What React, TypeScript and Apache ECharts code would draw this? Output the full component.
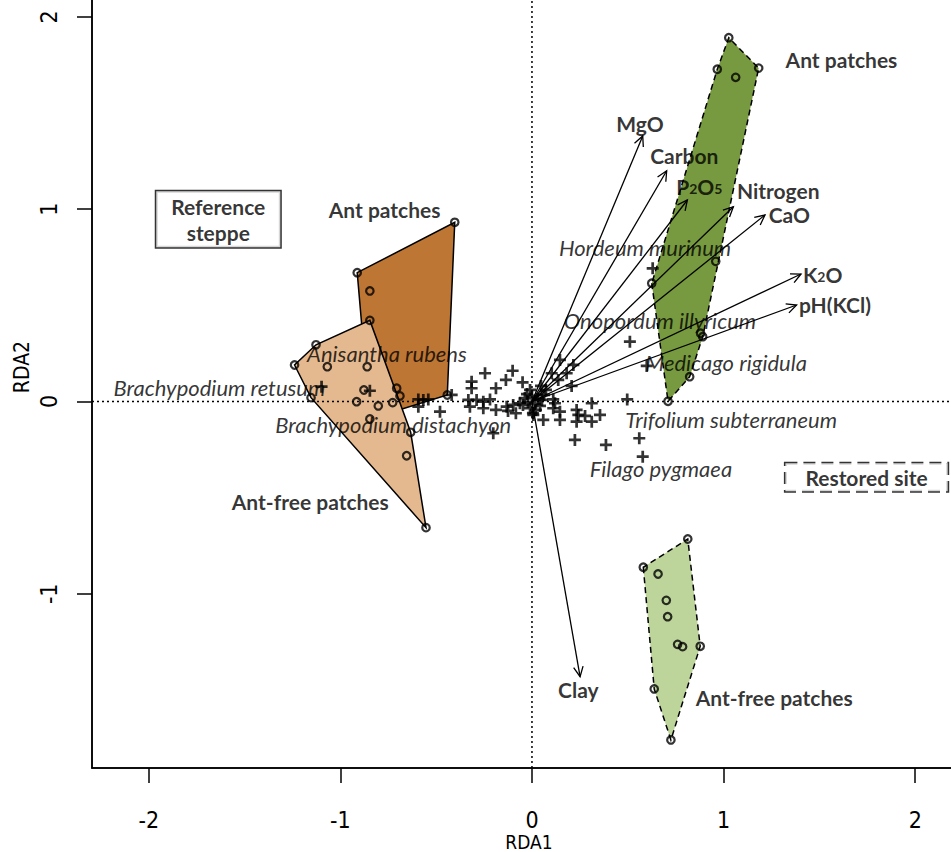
import React, { useEffect, useRef } from "react";
import * as echarts from "echarts";

// ---- axis ----
const X_MIN = -2.296;
const X_MAX = 2.265;
const Y_MIN = -1.906;
const Y_MAX = 2.265;
const TICKS = [-2, -1, 0, 1, 2];

// ---- site scores (circles) ----
const refAntX = [-0.403, -0.912, -0.846, -0.442, -0.706, -0.689, -0.727, -0.846];
const refAntY = [0.932, 0.670, 0.575, 0.034, 0.069, 0.029, -0.006, -0.091];
const refFreeX = [-0.846, -1.127, -1.239, -1.153, -0.553, -0.633, -1.068, -0.860, -0.877, -0.915, -0.802, -0.654];
const refFreeY = [0.422, 0.295, 0.190, 0.020, -0.656, -0.160, 0.181, 0.181, 0.060, -0.001, -0.023, -0.282];
const resAntX = [1.027, 0.967, 1.063, 1.183, 0.959, 0.625, 0.880, 0.891, 0.823, 0.710];
const resAntY = [1.892, 1.728, 1.686, 1.734, 0.729, 0.615, 0.355, 0.337, 0.129, 0.001];
const resFreeX = [0.813, 0.581, 0.658, 0.701, 0.708, 0.760, 0.786, 0.878, 0.638, 0.725];
const resFreeY = [-0.715, -0.862, -0.897, -1.034, -1.119, -1.263, -1.275, -1.273, -1.495, -1.760];

// ---- species scores (+) ----
const spX = [-1.098, -0.846, -0.593, -0.567, -0.541, -0.593, -0.480, -0.419, -0.315, -0.245,
  -0.315, -0.188, -0.136, -0.101, -0.049, -0.332, -0.289, -0.254, -0.219, -0.324,
  -0.254, -0.188, -0.132, -0.084, -0.202, -0.010, -0.098, -0.063, -0.125,
  -0.037, -0.021, 0.000, 0.016, 0.031, -0.010, 0.042, -0.047, -0.026, 0.021, 0.052, 0.063, 0.005,
  0.146, 0.216, 0.103, 0.181, 0.137, 0.207,
  0.111, 0.312, 0.497, 0.111, 0.233, 0.242, 0.233, 0.146, 0.059, 0.312, 0.355, 0.224, 0.386, 0.560, 0.578,
  0.599, 0.511, 0.630, 0.007, 0.120, 0.146, 0.277, 0.073, 0.047];
const spY = [0.077, 0.056, 0.011, 0.008, 0.011, -0.027, -0.053, 0.034, 0.103, 0.147,
  0.069, 0.069, 0.112, 0.160, 0.100, 0.008, 0.008, -0.001, 0.011, -0.027,
  -0.035, -0.044, -0.027, -0.061, -0.165, 0.060, -0.018, -0.009, -0.049,
  0.018, -0.003, 0.029, -0.013, 0.013, -0.034, -0.023, -0.018, 0.039, -0.044, 0.008, 0.034, -0.060,
  0.216, 0.190, 0.147, 0.147, 0.112, 0.081,
  0.011, -0.009, 0.011, -0.035, -0.044, -0.070, -0.105, -0.096, -0.096, -0.105, -0.070, -0.200, -0.226, -0.191, -0.287,
  0.185, 0.311, 0.693, -0.070, -0.009, -0.053, -0.075, 0.060, 0.081];

// ---- species labels ----
const speciesNames = ["Hordeum murinum", "Onopordum illyricum", "Medicago rigidula", "Trifolium subterraneum",
  "Filago pygmaea", "Anisantha rubens", "Brachypodium retusum", "Brachypodium distachyon"];
const speciesLabelX = [0.590, 0.668, 1.013, 1.039, 0.673, -0.757, -1.631, -0.724];
const speciesLabelY = [0.803, 0.419, 0.205, -0.096, -0.346, 0.252, 0.072, -0.122];

// ---- environmental vectors ----
const envNames = ["MgO", "Carbon", "P2O5", "Nitrogen", "CaO", "K2O", "pH(KCl)", "Clay"];
const envX = [0.578, 0.703, 0.811, 1.051, 1.216, 1.404, 1.381, 0.251];
const envY = [1.381, 1.200, 1.048, 1.013, 0.970, 0.663, 0.502, -1.431];
const envLabelX = [0.564, 0.795, 0.873, 1.285, 1.343, 1.517, 1.581, 0.242];
const envLabelY = [1.448, 1.282, 1.117, 1.100, 0.972, 0.663, 0.507, -1.500];

// ---- group labels ----
const groupLabels = ["Ant patches", "Ant patches", "Ant-free patches", "Ant-free patches"];
const groupLabelX = [1.615, -0.769, -1.157, 1.264];
const groupLabelY = [1.781, 0.999, -0.521, -1.540];

const boxLabels = ["Reference\nsteppe", "Restored site"];
const boxLabelX = [-1.637, 1.746];
const boxLabelY = [0.948, -0.394];

const BOLD_FONT = "Lato, 'Open Sans', sans-serif";
const AXIS_FONT = "'Liberation Sans Narrow', 'DejaVu Sans Condensed', 'Liberation Sans', sans-serif";
const PLUS = "path://M8.5,0h5v8.5h8.5v5h-8.5v8.5h-5v-8.5h-8.5v-5h8.5z";

function zip(xs: number[], ys: number[]) {
  return xs.map((x, i) => [x, ys[i]]);
}

function hull(pts: number[][]) {
  const p = pts.slice().sort((a, b) => a[0] - b[0] || a[1] - b[1]);
  const cross = (o: number[], a: number[], b: number[]) =>
    (a[0] - o[0]) * (b[1] - o[1]) - (a[1] - o[1]) * (b[0] - o[0]);
  const lower: number[][] = [];
  for (const q of p) {
    while (lower.length >= 2 && cross(lower[lower.length - 2], lower[lower.length - 1], q) <= 0) lower.pop();
    lower.push(q);
  }
  const upper: number[][] = [];
  for (let i = p.length - 1; i >= 0; i--) {
    const q = p[i];
    while (upper.length >= 2 && cross(upper[upper.length - 2], upper[upper.length - 1], q) <= 0) upper.pop();
    upper.push(q);
  }
  upper.pop();
  lower.pop();
  return lower.concat(upper);
}

function polygonSeries(xs: number[], ys: number[], fill: string, dashed: boolean) {
  const h = hull(zip(xs, ys));
  return {
    type: "custom",
    coordinateSystem: "cartesian2d",
    silent: true,
    data: h,
    renderItem: (params: any, api: any) => {
      if (params.dataIndex !== 0) return null;
      return {
        type: "polygon",
        shape: { points: h.map((p) => api.coord(p)) },
        style: { fill, stroke: "#000", lineWidth: 1.5, lineDash: dashed ? [6, 4] : null },
      };
    },
  };
}

export default function App() {
  const ref = useRef<HTMLDivElement>(null);
  useEffect(() => {
    if (!ref.current) return;
    const chart = echarts.init(ref.current, null, { renderer: "svg" });

    const sites = [
      ...zip(refAntX, refAntY),
      ...zip(refFreeX, refFreeY),
      ...zip(resAntX, resAntY),
      ...zip(resFreeX, resFreeY),
    ];

    const option: any = {
      animation: false,
      backgroundColor: "#fff",
      grid: {
        left: 92, top: 0, width: 874, height: 802, show: true, borderColor: "#000", borderWidth: 1.5,
        outerBoundsMode: "none", containLabel: false,
      },
      xAxis: {
        type: "value",
        min: X_MIN,
        max: X_MAX,
        name: "RDA1",
        nameLocation: "middle",
        nameGap: 74,
        nameMoveOverlap: false,
        nameTextStyle: { fontFamily: AXIS_FONT, fontSize: 19, lineHeight: 16, color: "#000", verticalAlign: "middle" },
        axisLine: { show: true, onZero: false, lineStyle: { color: "#000", width: 1.5 } },
        axisTick: { show: true, inside: false, length: 15, customValues: TICKS, lineStyle: { color: "#000", width: 1.5 } },
        axisLabel: { customValues: TICKS, margin: 42, fontFamily: AXIS_FONT, fontSize: 23, lineHeight: 20, color: "#000" },
        splitLine: { show: false },
      },
      yAxis: {
        type: "value",
        min: Y_MIN,
        max: Y_MAX,
        name: "RDA2",
        nameLocation: "middle",
        nameGap: 70,
        nameMoveOverlap: false,
        nameTextStyle: { fontFamily: AXIS_FONT, fontSize: 21, color: "#000", verticalAlign: "middle" },
        axisLine: { show: true, onZero: false, lineStyle: { color: "#000", width: 1.5 } },
        axisTick: { show: true, inside: false, length: 15, customValues: TICKS, lineStyle: { color: "#000", width: 1.5 } },
        axisLabel: { customValues: TICKS, rotate: 90, margin: 32, fontFamily: AXIS_FONT, fontSize: 23, color: "#000" },
        splitLine: { show: false },
      },
      series: [
        polygonSeries(refAntX, refAntY, "#bd7633", false),
        polygonSeries(refFreeX, refFreeY, "#e5b98f", false),
        polygonSeries(resAntX, resAntY, "#77993f", true),
        polygonSeries(resFreeX, resFreeY, "#bdd49b", true),
        {
          type: "custom",
          coordinateSystem: "cartesian2d",
          silent: true,
          data: [[0, 0]],
          renderItem: (params: any, api: any) => {
            const c = api.coord([0, 0]);
            const cs = params.coordSys;
            const st = { stroke: "#000", lineWidth: 1.5, lineDash: [2, 3] };
            return {
              type: "group",
              children: [
                { type: "line", shape: { x1: cs.x, y1: c[1], x2: cs.x + cs.width, y2: c[1] }, style: st },
                { type: "line", shape: { x1: c[0], y1: cs.y, x2: c[0], y2: cs.y + cs.height }, style: st },
              ],
            };
          },
        },
        {
          type: "custom",
          coordinateSystem: "cartesian2d",
          silent: true,
          data: zip(envX, envY),
          renderItem: (params: any, api: any) => {
            const p0 = api.coord([0, 0]);
            const p1 = api.coord([api.value(0), api.value(1)]);
            const ang = Math.atan2(p1[1] - p0[1], p1[0] - p0[0]);
            const L = 11;
            const a = Math.PI / 7;
            const h1 = [p1[0] - L * Math.cos(ang - a), p1[1] - L * Math.sin(ang - a)];
            const h2 = [p1[0] - L * Math.cos(ang + a), p1[1] - L * Math.sin(ang + a)];
            const st = { stroke: "#000", lineWidth: 1.3, fill: null };
            return {
              type: "group",
              children: [
                { type: "line", shape: { x1: p0[0], y1: p0[1], x2: p1[0], y2: p1[1] }, style: st },
                { type: "polyline", shape: { points: [h1, p1, h2] }, style: st },
              ],
            };
          },
        },
        {
          type: "scatter",
          silent: true,
          symbol: PLUS,
          symbolSize: 12,
          itemStyle: { color: "#000" },
          data: zip(spX, spY),
        },
        {
          type: "scatter",
          silent: true,
          symbol: "circle",
          symbolSize: 7.5,
          itemStyle: { color: "transparent", borderColor: "#000", borderWidth: 2.2 },
          data: sites,
        },
        {
          type: "scatter",
          silent: true,
          symbolSize: 1,
          itemStyle: { color: "transparent" },
          label: {
            show: true,
            position: "inside",
            formatter: (p: any) => p.name,
            fontFamily: BOLD_FONT,
            fontStyle: "italic",
            fontSize: 22,
            color: "#000",
          },
          data: speciesNames.map((n, i) => ({ name: n, value: [speciesLabelX[i], speciesLabelY[i]] })),
        },
        {
          type: "scatter",
          silent: true,
          symbolSize: 1,
          itemStyle: { color: "transparent" },
          label: {
            show: true,
            position: "inside",
            formatter: (p: any) => {
              const n = p.name;
              if (n === "P2O5") return "{b|P}{s|2}{b|O}{s|5}";
              if (n === "K2O") return "{b|K}{s|2}{b|O}";
              return "{b|" + n + "}";
            },
            rich: {
              b: { fontFamily: BOLD_FONT, fontWeight: "bold", fontSize: 21, lineHeight: 18, color: "#000" },
              s: { fontFamily: BOLD_FONT, fontWeight: "bold", fontSize: 14, lineHeight: 6, color: "#000", verticalAlign: "bottom" },
            },
          },
          data: envNames.map((n, i) => ({ name: n, value: [envLabelX[i], envLabelY[i]] })),
        },
        {
          type: "scatter",
          silent: true,
          symbolSize: 1,
          itemStyle: { color: "transparent" },
          label: {
            show: true,
            position: "inside",
            formatter: (p: any) => p.name,
            fontFamily: BOLD_FONT,
            fontWeight: "bold",
            fontSize: 21,
            color: "#000",
          },
          data: groupLabels.map((n, i) => ({ name: n, value: [groupLabelX[i], groupLabelY[i]] })),
        },
        {
          type: "scatter",
          silent: true,
          symbolSize: 1,
          itemStyle: { color: "transparent" },
          label: {
            show: true,
            position: "inside",
            formatter: (p: any) => p.name,
            fontFamily: BOLD_FONT,
            fontWeight: "bold",
            fontSize: 21,
            lineHeight: 26,
            color: "#000",
            backgroundColor: "#fff",
            borderColor: "#000",
            borderWidth: 1.5,
          },
          data: boxLabels.map((n, i) => ({
            name: n,
            value: [boxLabelX[i], boxLabelY[i]],
            label: i === 0 ? { padding: [2, 15, 2, 15] } : { padding: [1, 20, 1, 20], borderType: "dashed" },
          })),
        },
      ],
    };
    chart.setOption(option);
    return () => chart.dispose();
  }, []);

  return (
    <div style={{ position: "fixed", left: 0, top: 0, width: 951, height: 852, overflow: "hidden", background: "#fff" }}>
      <div ref={ref} style={{ position: "absolute", left: 0, top: -34, width: 1000, height: 886 }} />
    </div>
  );
}
